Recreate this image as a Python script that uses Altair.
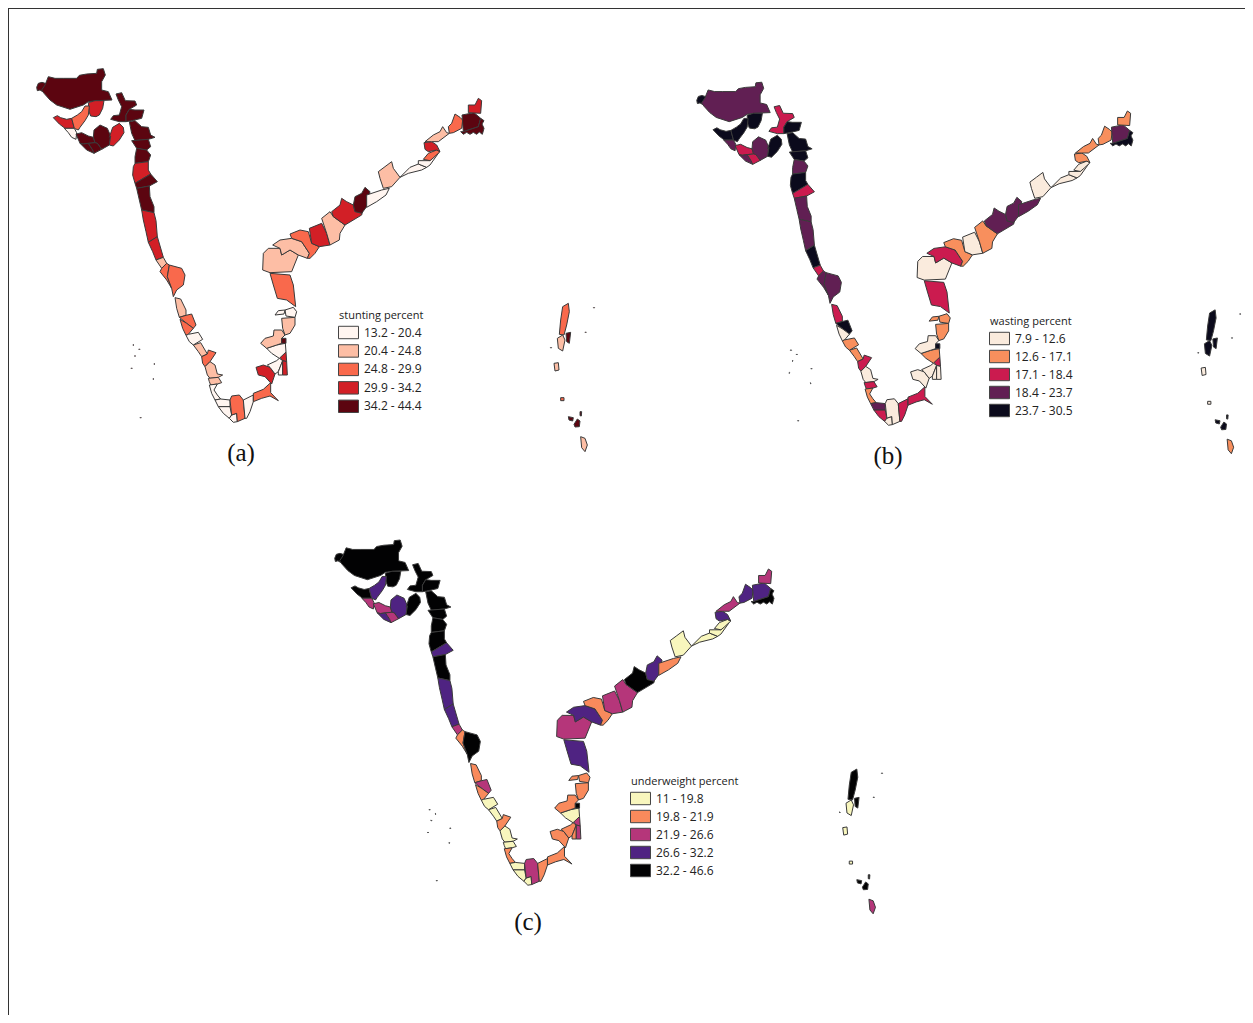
import altair as alt

# Class labels and colours of the three panels
LABELS_A = ["13.2 - 20.4", "20.4 - 24.8", "24.8 - 29.9", "29.9 - 34.2", "34.2 - 44.4"]
LABELS_B = ["7.9 - 12.6", "12.6 - 17.1", "17.1 - 18.4", "18.4 - 23.7", "23.7 - 30.5"]
LABELS_C = ["11 - 19.8", "19.8 - 21.9", "21.9 - 26.6", "26.6 - 32.2", "32.2 - 46.6"]
COLORS_A = ["#fff5f0", "#fdbea5", "#f9694c", "#d21f26", "#5c0510"]
COLORS_B = ["#faebdd", "#f88f5d", "#cb1b4f", "#611f53", "#0b0a1c"]
COLORS_C = ["#f8f6bd", "#f98a5c", "#b5367a", "#4f2382", "#020203"]
TITLES = ["stunting percent", "wasting percent", "underweight percent"]
CAPTIONS = ["(a)", "(b)", "(c)"]
CAPTION_X = [241, 888, 528]
CAPTION_Y = [453, 456, 922]

# Panel placement of the shared outline (scale x, offset x, scale y, offset y)
PANELS = [(1.0, -8.0, 1.0, -8.0), (0.975, 653.0, 0.97, 7.6), (0.982, 290.7, 0.976, 465.0)]

# Districts: class in panels a, b, c, then outline.
# West coast, digitised at 3x with origin (20, 50)
WEST = [
 (4,4,4,[(50,112),(55,100),(66,97),(85,103),(74,112),(68,125),(60,120),(52,122)]),
 (4,3,4,[(85,80),(105,85),(130,85),(170,85),(178,76),(200,72),(230,70),(232,58),(250,56),(256,75),(245,95),(245,120),(265,125),(276,150),(230,152),(205,155),(190,165),(150,178),(110,165),(90,150),(72,130),(65,120),(75,105)]),
 (3,4,4,[(205,158),(225,152),(252,152),(248,175),(238,195),(228,200),(212,198),(207,185)]),
 (3,4,4,[(100,203),(112,197),(122,203),(140,208),(155,205),(163,235),(148,235),(135,235),(118,222)]),
 (2,4,3,[(155,205),(172,195),(185,185),(195,168),(208,168),(205,195),(195,212),(180,232),(175,240),(163,235)]),
 (0,3,2,[(133,235),(163,235),(170,248),(168,268),(155,262),(145,248)]),
 (4,2,2,[(168,252),(185,248),(205,258),(220,262),(225,278),(205,280),(190,282),(180,280)]),
 (4,3,3,[(220,262),(222,240),(240,225),(262,235),(272,258),(268,285),(245,298),(232,280),(225,278)]),
 (4,3,3,[(180,280),(190,282),(205,280),(218,300),(222,310),(200,300)]),
 (4,2,2,[(205,280),(225,278),(232,280),(245,298),(222,310),(218,300)]),
 (3,4,4,[(268,262),(278,232),(298,220),(310,232),(312,248),(298,270),(280,288),(268,285),(272,258)]),
 (4,2,4,[(288,132),(305,128),(316,152),(345,153),(350,165),(328,178),(318,195),(318,215),(298,215),(272,208),(280,197),(298,195),(305,170),(295,150)]),
 (4,4,4,[(318,195),(328,178),(345,180),(372,180),(365,205),(335,212),(318,215)]),
 (4,4,4,[(328,215),(345,212),(365,230),(385,232),(392,255),(405,262),(385,268),(345,272),(335,250)]),
 (4,4,4,[(335,272),(385,268),(392,290),(380,300),(350,295)]),
 (4,3,4,[(350,295),(380,300),(392,315),(385,335),(345,340),(345,320)]),
 (3,4,4,[(340,350),(345,340),(385,335),(385,360),(392,372),(345,400),(338,375)]),
 (4,2,3,[(345,400),(392,372),(412,395),(388,408),(350,415)]),
 (4,3,4,[(350,415),(388,408),(390,440),(402,470),(402,488),(365,480),(358,450)]),
 (3,3,3,[(365,480),(402,488),(408,512),(412,560),(385,577),(378,545),(370,510)]),
 (3,4,3,[(385,577),(412,560),(430,622),(408,630),(398,605)]),
 (1,2,2,[(408,630),(430,622),(440,640),(425,655)]),
]
# Southern tip and lower east coast, digitised at 3x with origin (130, 230)
SOUTH = [
 (2,3,1,[(95,115),(110,100),(118,105),(112,140),(125,175),(110,150),(90,125)]),
 (2,3,4,[(118,105),(155,115),(165,135),(160,165),(140,180),(130,200),(125,175),(112,140)]),
 (1,2,1,[(135,203),(152,207),(168,240),(168,256),(148,262),(140,235)]),
 (2,4,2,[(148,262),(168,256),(185,252),(198,285),(190,295),(170,280)]),
 (2,0,1,[(150,268),(170,280),(190,295),(175,313),(168,316),(158,295)]),
 (0,1,0,[(168,316),(175,313),(205,307),(218,328),(190,345),(178,335)]),
 (1,1,0,[(190,345),(212,338),(232,372),(215,380),(205,365)]),
 (2,2,1,[(215,380),(232,372),(235,360),(258,368),(240,395),(225,410),(218,400)]),
 (1,0,0,[(225,410),(240,395),(255,405),(262,432),(278,435),(265,442),(240,445),(232,435)]),
 (1,2,0,[(235,445),(265,442),(275,458),(262,462),(242,465),(238,455)]),
 (0,1,1,[(238,465),(262,462),(252,480),(262,495),(272,507),(255,510),(245,490)]),
 (0,3,0,[(255,510),(272,507),(300,510),(300,530),(265,530)]),
 (0,2,0,[(265,530),(300,530),(305,555),(298,565),(280,550)]),
 (0,0,0,[(298,565),(305,555),(320,550),(322,575),(310,577)]),
 (2,0,2,[(300,510),(305,498),(328,495),(340,510),(345,565),(322,575),(320,550),(305,555)]),
 (0,2,1,[(340,510),(370,495),(370,515),(360,545),(350,565),(345,565)]),
 (2,2,1,[(370,490),(400,478),(422,458),(422,488),(445,512),(420,498),(395,505),(370,515)]),
 (3,0,1,[(378,412),(400,405),(420,412),(435,432),(425,462),(405,440),(385,435)]),
 (0,0,1,[(412,405),(440,392),(448,385),(458,392),(445,425),(435,432),(420,412)]),
 (0,0,1,[(445,425),(458,392),(458,435),(445,435)]),
 (3,2,2,[(448,380),(468,366),(470,395),(458,392)]),
 (3,0,2,[(458,392),(470,395),(472,435),(458,435)]),
 (0,1,0,[(410,355),(440,345),(466,340),(468,366),(448,385),(425,370)]),
 (1,0,1,[(392,340),(405,325),(430,318),(432,300),(455,300),(465,315),(455,325),(455,340),(440,345),(410,355)]),
 (4,4,4,[(455,325),(468,325),(468,340),(455,340)]),
 (1,1,1,[(455,265),(495,262),(495,285),(480,310),(465,315),(458,295)]),
 (0,1,1,[(465,240),(490,232),(500,245),(495,262),(468,258)]),
 (0,1,1,[(435,255),(445,242),(465,240),(462,252)]),
 (2,2,3,[(420,130),(480,135),(490,165),(497,230),(470,210),(442,205),(430,165)]),
]
# Upper east coast, digitised at 3x with origin (250, 90)
EAST = [
 (1,0,2,[(38,540),(40,490),(55,475),(90,475),(95,495),(120,480),(145,495),(125,545),(60,548)]),
 (1,2,3,[(68,465),(90,450),(125,445),(155,455),(178,490),(172,505),(145,495),(120,480),(95,495),(90,475)]),
 (2,1,1,[(120,432),(150,420),(175,425),(185,460),(208,470),(195,490),(180,505),(172,505),(178,490),(155,455),(125,445)]),
 (3,0,2,[(178,415),(215,400),(230,430),(240,465),(208,470),(185,460)]),
 (1,1,2,[(215,385),(240,365),(250,380),(285,405),(270,430),(268,450),(240,465),(230,430)]),
 (3,3,4,[(245,365),(270,345),(275,325),(290,335),(310,345),(315,365),(340,355),(335,375),(285,405),(250,380)]),
 (4,3,3,[(315,320),(335,310),(345,292),(360,305),(350,350),(335,370),(315,365),(310,345)]),
 (0,3,1,[(350,315),(395,300),(418,295),(408,315),(380,335),(350,352)]),
 (1,0,0,[(385,245),(405,230),(425,215),(430,235),(450,262),(425,290),(400,295),(390,265)]),
 (0,0,0,[(450,262),(480,232),(505,222),(530,232),(515,240),(475,250)]),
 (0,0,0,[(505,212),(540,212),(552,200),(565,190),(540,225),(530,232),(505,222)]),
 (2,0,0,[(520,208),(535,190),(560,180),(570,185),(552,202),(540,212)]),
 (3,1,3,[(522,158),(545,155),(560,165),(570,185),(560,180),(535,185),(525,178)]),
 (1,1,2,[(525,155),(550,135),(570,125),(578,110),(590,128),(598,130),(565,155),(545,155)]),
 (2,1,3,[(595,110),(605,100),(615,72),(630,82),(638,90),(635,115),(610,128),(598,130)]),
 (4,3,3,[(636,75),(672,68),(692,85),(685,110),(640,125)]),
 (4,4,4,[(632,125),(640,125),(685,110),(692,85),(702,92),(696,102),(702,115),(697,133),(688,126),(680,133),(670,127),(660,133),(650,127),(640,133)]),
 (3,1,2,[(655,45),(675,45),(685,25),(695,32),(692,70),(655,68)]),
]
# Bay islands, digitised at 3x with origin (540, 295)
ISLES = [
 (2,4,4,[(68,35),(85,25),(88,50),(80,90),(72,120),(58,118),(62,75)]),
 (1,4,0,[(52,130),(68,120),(75,135),(68,168),(55,160)]),
 (1,0,0,[(42,205),(55,203),(57,225),(45,228)]),
 (4,4,4,[(78,115),(92,112),(88,145),(80,140)]),
 (2,0,0,[(62,308),(72,308),(72,317),(62,317)]),
 (4,4,4,[(85,365),(100,368),(98,378),(87,375)]),
 (4,4,4,[(102,388),(112,372),(120,378),(118,395),(105,396)]),
 (4,4,4,[(120,350),(125,350),(124,363),(120,362)]),
 (1,1,2,[(122,425),(135,430),(142,450),(135,470),(125,458)]),
]
# Very small islands, points digitised at 3x with origin (540, 295) and (130, 230)
BAY_DOTS = [(162, 38), (137, 112), (33, 158)]
ARABIAN_DOTS = [(10, 345), (28, 358), (15, 378), (73, 402), (70, 447), (5, 415), (32, 563)]

GROUPS = [(WEST, 20, 50), (SOUTH, 130, 230), (EAST, 250, 90), (ISLES, 540, 295)]

def to_ring(points, ox, oy, panel):
    sx, dx, sy, dy = panel
    ring = [[sx * (ox + x / 3) + dx, sy * (oy + y / 3) + dy] for x, y in points]
    return ring + [ring[0]]

def features(idx, labels):
    panel = PANELS[idx]
    out = []
    for rows, ox, oy in GROUPS:
        for row in rows:
            out.append({"type": "Feature",
                        "properties": {"cls": labels[row[idx]]},
                        "geometry": {"type": "Polygon",
                                     "coordinates": [to_ring(row[3], ox, oy, panel)]}})
    for dots, ox, oy in ((BAY_DOTS, 540, 295), (ARABIAN_DOTS, 130, 230)):
        for x, y in dots:
            tiny = [(x - 1.5, y), (x, y - 1.5), (x + 1.5, y), (x, y + 1.5)]
            out.append({"type": "Feature",
                        "properties": {"cls": labels[4]},
                        "geometry": {"type": "Polygon",
                                     "coordinates": [to_ring(tiny, ox, oy, panel)]}})
    return out

FONT = "Open Sans"
SWATCH = "M-1.11,-0.69H1.11V0.69H-1.11Z"

def panel_layer(idx, labels, colors, lx, ly, row_gap):
    return alt.Chart(alt.Data(values=features(idx, labels))).mark_geoshape(
        stroke="#3a3a3a", strokeWidth=1
    ).encode(
        color=alt.Color(
            "properties.cls:N",
            scale=alt.Scale(domain=labels, range=colors),
            sort=labels,
            legend=alt.Legend(
                title=TITLES[idx], orient="none", legendX=lx, legendY=ly,
                titleFont=FONT, titleFontSize=11, titleFontWeight="normal",
                titleColor="#222222", titlePadding=2,
                labelFont=FONT, labelFontSize=12, labelColor="#222222", labelOffset=6,
                symbolType=SWATCH, symbolSize=324, symbolOpacity=1,
                symbolStrokeColor="#444444", symbolStrokeWidth=1,
                rowPadding=row_gap, padding=0,
            ),
        )
    )

caption_rows = [{"t": t, "lon": x - 8, "lat": y - 8}
                for t, x, y in zip(CAPTIONS, CAPTION_X, CAPTION_Y)]
captions = alt.Chart(alt.Data(values=caption_rows)).mark_text(
    font="Liberation Serif", fontSize=25, color="#111111", baseline="middle"
).encode(longitude="lon:Q", latitude="lat:Q", text="t:N")

frame_left = alt.Chart(alt.Data(values=[{"a": 0}])).mark_rule(
    color="#333333", strokeWidth=2).encode(x=alt.value(0), y=alt.value(0), y2=alt.value(1007))
frame_top = alt.Chart(alt.Data(values=[{"a": 0}])).mark_rule(
    color="#333333", strokeWidth=2).encode(y=alt.value(0), x=alt.value(0), x2=alt.value(1237))

chart = alt.layer(
    panel_layer(0, LABELS_A, COLORS_A, 331, 302, 0.45),
    panel_layer(1, LABELS_B, COLORS_B, 982, 308, 0),
    panel_layer(2, LABELS_C, COLORS_C, 623, 768, 0),
    captions, frame_left, frame_top,
).resolve_scale(color="independent").properties(
    width=1237, height=1007, padding=0,
    autosize=alt.AutoSizeParams(type="none"),
    projection=alt.Projection(type="identity", scale=1, translate=[0, 0]),
).configure_view(stroke=None)

chart.save("out.html", embed_options={"renderer": "svg", "actions": False})
